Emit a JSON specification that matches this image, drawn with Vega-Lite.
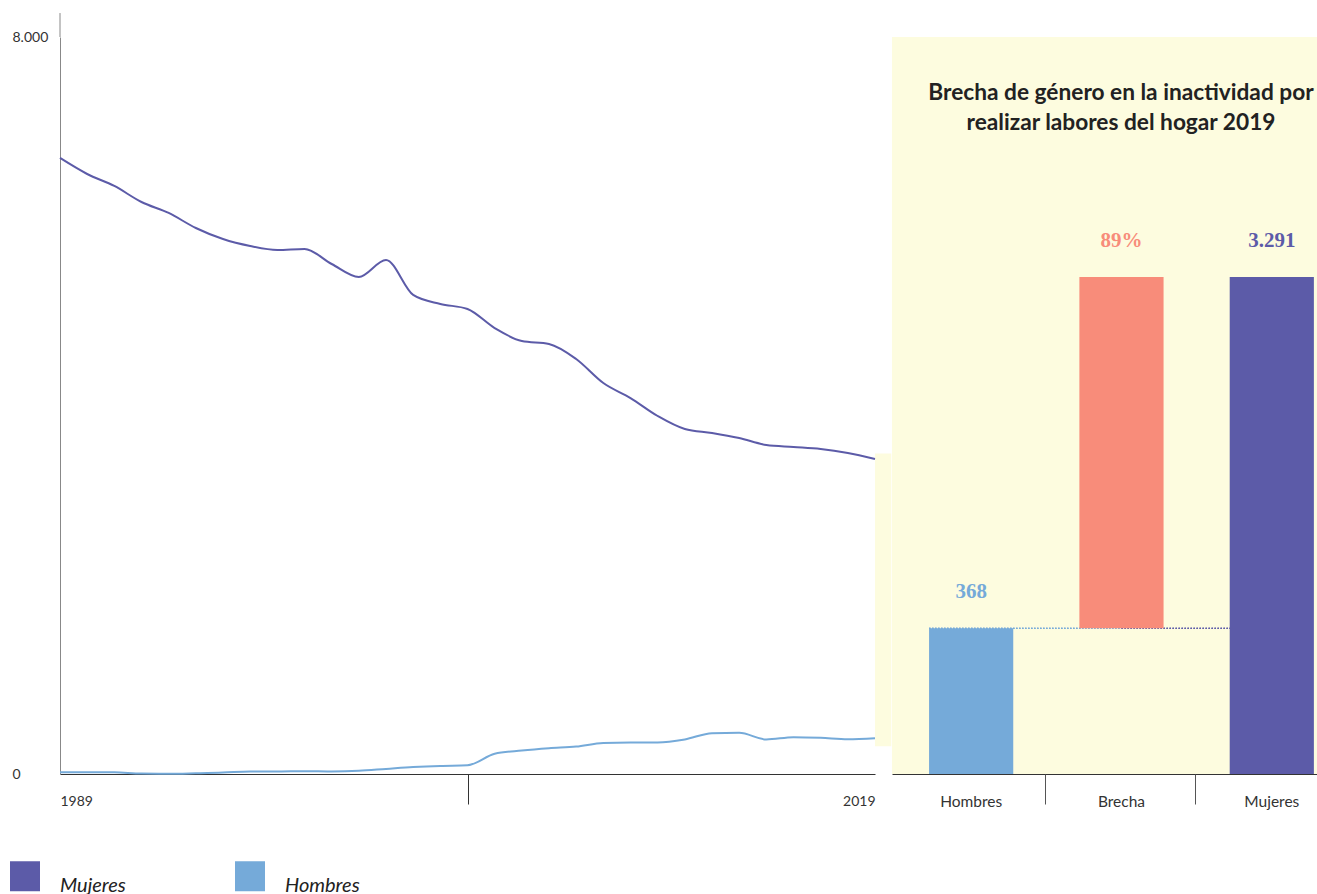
{
  "$schema": "https://vega.github.io/schema/vega-lite/v6.json",
  "padding": {"left": 10, "top": 12, "right": 0, "bottom": 0},
  "background": "white",
  "spacing": 0,
  "config": {
    "font": "Lato",
    "view": {"stroke": null},
    "axis": {"labelFont": "Lato", "labelColor": "#333", "grid": false, "title": null}
  },
  "resolve": {"scale": {"color": "independent"}},
  "hconcat": [
    {
      "width": 815,
      "height": 737,
      "layer": [
        {
          "data": {"values": [{}]},
          "mark": {"type": "rect", "color": "#fdfcdf"},
          "encoding": {
            "x": {"datum": 2019, "type": "quantitative"},
            "x2": {"datum": 2019.6},
            "y": {"datum": 300, "type": "quantitative"},
            "y2": {"datum": 3480}
          }
        },
        {
          "data": {"values": [{}]},
          "mark": {"type": "rule", "color": "#888", "strokeWidth": 1},
          "encoding": {
            "x": {"datum": 1989, "type": "quantitative"},
            "y": {"datum": 8000, "type": "quantitative"},
            "y2": {"datum": 8260}
          }
        },
        {
          "data": {
            "values": [
              {"year": 1989, "serie": "Mujeres", "value": 6687},
              {"year": 1990, "serie": "Mujeres", "value": 6513},
              {"year": 1991, "serie": "Mujeres", "value": 6383},
              {"year": 1992, "serie": "Mujeres", "value": 6209},
              {"year": 1993, "serie": "Mujeres", "value": 6090},
              {"year": 1994, "serie": "Mujeres", "value": 5927},
              {"year": 1995, "serie": "Mujeres", "value": 5807},
              {"year": 1996, "serie": "Mujeres", "value": 5731},
              {"year": 1997, "serie": "Mujeres", "value": 5688},
              {"year": 1998, "serie": "Mujeres", "value": 5699},
              {"year": 1999, "serie": "Mujeres", "value": 5536},
              {"year": 2000, "serie": "Mujeres", "value": 5395},
              {"year": 2001, "serie": "Mujeres", "value": 5579},
              {"year": 2002, "serie": "Mujeres", "value": 5200},
              {"year": 2003, "serie": "Mujeres", "value": 5102},
              {"year": 2004, "serie": "Mujeres", "value": 5048},
              {"year": 2005, "serie": "Mujeres", "value": 4841},
              {"year": 2006, "serie": "Mujeres", "value": 4700},
              {"year": 2007, "serie": "Mujeres", "value": 4668},
              {"year": 2008, "serie": "Mujeres", "value": 4505},
              {"year": 2009, "serie": "Mujeres", "value": 4244},
              {"year": 2010, "serie": "Mujeres", "value": 4081},
              {"year": 2011, "serie": "Mujeres", "value": 3886},
              {"year": 2012, "serie": "Mujeres", "value": 3745},
              {"year": 2013, "serie": "Mujeres", "value": 3702},
              {"year": 2014, "serie": "Mujeres", "value": 3647},
              {"year": 2015, "serie": "Mujeres", "value": 3571},
              {"year": 2016, "serie": "Mujeres", "value": 3550},
              {"year": 2017, "serie": "Mujeres", "value": 3528},
              {"year": 2018, "serie": "Mujeres", "value": 3484},
              {"year": 2019, "serie": "Mujeres", "value": 3419},
              {"year": 1989, "serie": "Hombres", "value": 20},
              {"year": 1990, "serie": "Hombres", "value": 20},
              {"year": 1991, "serie": "Hombres", "value": 18},
              {"year": 1992, "serie": "Hombres", "value": 5},
              {"year": 1993, "serie": "Hombres", "value": 3},
              {"year": 1994, "serie": "Hombres", "value": 8},
              {"year": 1995, "serie": "Hombres", "value": 15},
              {"year": 1996, "serie": "Hombres", "value": 28},
              {"year": 1997, "serie": "Hombres", "value": 28},
              {"year": 1998, "serie": "Hombres", "value": 30},
              {"year": 1999, "serie": "Hombres", "value": 28},
              {"year": 2000, "serie": "Hombres", "value": 35},
              {"year": 2001, "serie": "Hombres", "value": 55},
              {"year": 2002, "serie": "Hombres", "value": 75},
              {"year": 2003, "serie": "Hombres", "value": 88},
              {"year": 2004, "serie": "Hombres", "value": 95},
              {"year": 2005, "serie": "Hombres", "value": 220},
              {"year": 2006, "serie": "Hombres", "value": 255},
              {"year": 2007, "serie": "Hombres", "value": 280},
              {"year": 2008, "serie": "Hombres", "value": 298},
              {"year": 2009, "serie": "Hombres", "value": 337},
              {"year": 2010, "serie": "Hombres", "value": 342},
              {"year": 2011, "serie": "Hombres", "value": 342},
              {"year": 2012, "serie": "Hombres", "value": 375},
              {"year": 2013, "serie": "Hombres", "value": 443},
              {"year": 2014, "serie": "Hombres", "value": 447},
              {"year": 2015, "serie": "Hombres", "value": 375},
              {"year": 2016, "serie": "Hombres", "value": 400},
              {"year": 2017, "serie": "Hombres", "value": 393},
              {"year": 2018, "serie": "Hombres", "value": 378},
              {"year": 2019, "serie": "Hombres", "value": 389}
            ]
          },
          "mark": {"type": "line", "interpolate": "monotone", "strokeWidth": 2},
          "encoding": {
            "x": {
              "field": "year",
              "type": "quantitative",
              "scale": {"domain": [1989, 2019], "nice": false, "zero": false},
              "axis": {
                "values": [1989, 2004, 2019],
                "format": "d",
                "labelExpr": "datum.value == 2004 ? '' : datum.label",
                "labelFlush": true,
                "labelFontSize": 14,
                "labelPadding": -10,
                "tickSize": 30,
                "tickColor": {"condition": {"test": "datum.value == 2004", "value": "#333"}, "value": "transparent"},
                "domainColor": "#333"
              }
            },
            "y": {
              "field": "value",
              "type": "quantitative",
              "scale": {"domain": [0, 8000], "nice": false},
              "axis": {
                "values": [0, 8000],
                "labelExpr": "replace(format(datum.value, ','), ',', '.')",
                "ticks": false,
                "labelAlign": "left",
                "labelBaseline": "middle",
                "labelPadding": 48,
                "labelFlush": false,
                "labelFontSize": 14,
                "domainColor": "#888"
              }
            },
            "color": {
              "field": "serie",
              "type": "nominal",
              "scale": {"domain": ["Mujeres", "Hombres"], "range": ["#5c5ba8", "#75aad9"]},
              "legend": {
                "orient": "none",
                "legendX": -50,
                "legendY": 824,
                "direction": "horizontal",
                "title": null,
                "symbolType": "square",
                "symbolSize": 225,
                "symbolStrokeWidth": 15,
                "labelFont": "Lato",
                "labelFontStyle": "italic",
                "labelFontSize": 20,
                "labelColor": "#222",
                "labelOffset": 20,
                "labelBaseline": "top",
                "columnPadding": 86
              }
            }
          }
        }
      ]
    },
    {
      "width": 426,
      "height": 737,
      "view": {"fill": "#fdfcdf", "stroke": null},
      "title": {
        "text": ["Brecha de género en la inactividad por", "realizar labores del hogar 2019"],
        "orient": "top",
        "anchor": "middle",
        "frame": "group",
        "offset": -116,
        "dx": 16,
        "baseline": "alphabetic",
        "lineHeight": 30,
        "font": "Lato",
        "fontSize": 22.7,
        "fontWeight": "bold",
        "color": "#222"
      },
      "data": {
        "values": [
          {"cat": "Hombres", "start": 0, "end": 368, "label": "368"},
          {"cat": "Brecha", "start": 368, "end": 3291, "label": "89%"},
          {"cat": "Mujeres", "start": 0, "end": 3291, "label": "3.291"}
        ]
      },
      "encoding": {
        "x": {
          "field": "cat",
          "type": "nominal",
          "sort": ["Hombres", "Brecha", "Mujeres"],
          "scale": {"paddingInner": 0.44, "paddingOuter": 0.137, "align": 0.9}
        }
      },
      "resolve": {"axis": {"x": "independent"}},
      "layer": [
        {
          "mark": {"type": "rule", "color": "#75aad9", "strokeDash": [1.5, 1.5], "strokeWidth": 1},
          "encoding": {
            "x": {"datum": "Hombres", "type": "nominal", "bandPosition": 0, "axis": null},
            "x2": {"datum": "Brecha"},
            "y": {"datum": 368, "type": "quantitative"}
          }
        },
        {
          "mark": {"type": "rule", "color": "#5c5ba8", "strokeDash": [1.5, 1.5], "strokeWidth": 1},
          "encoding": {
            "x": {"datum": "Brecha", "type": "nominal", "axis": null},
            "x2": {"datum": "Mujeres"},
            "y": {"datum": 368, "type": "quantitative"}
          }
        },
        {
          "mark": {"type": "bar"},
          "encoding": {
            "x": {
              "field": "cat",
              "type": "nominal",
              "sort": ["Hombres", "Brecha", "Mujeres"],
              "axis": {
                "orient": "bottom",
                "labelAngle": 0,
                "labelFontSize": 15.5,
                "labelPadding": 20,
                "ticks": false,
                "domainColor": "#333"
              }
            },
            "y": {
              "field": "end",
              "type": "quantitative",
              "scale": {"type": "pow", "exponent": 0.56, "domain": [0, 6650], "nice": false},
              "axis": null
            },
            "y2": {"field": "start"},
            "color": {
              "field": "cat",
              "type": "nominal",
              "scale": {"domain": ["Hombres", "Brecha", "Mujeres"], "range": ["#75aad9", "#f88c7a", "#5c5ba8"]},
              "legend": null
            }
          }
        },
        {
          "mark": {"type": "text", "font": "Liberation Serif", "fontWeight": "bold", "fontSize": 21, "baseline": "middle", "dy": -36},
          "encoding": {
            "x": {
              "field": "cat",
              "type": "nominal",
              "sort": ["Hombres", "Brecha", "Mujeres"],
              "axis": {
                "orient": "bottom",
                "values": ["Hombres", "Brecha"],
                "labels": false,
                "domain": false,
                "bandPosition": 1.38,
                "tickSize": 30,
                "tickColor": "#555"
              }
            },
            "y": {"field": "end", "type": "quantitative"},
            "text": {"field": "label"},
            "color": {"field": "cat", "type": "nominal", "legend": null}
          }
        }
      ]
    }
  ]
}
